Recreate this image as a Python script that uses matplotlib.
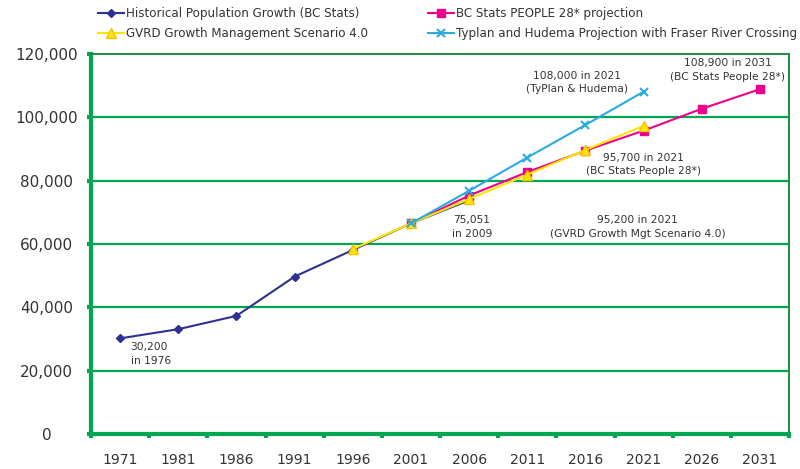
import matplotlib
matplotlib.use("Agg")
import matplotlib.pyplot as plt
from matplotlib.ticker import FuncFormatter
import numpy as np

# categories on the x axis (labels as printed on the original chart)
year_labels = ["1971", "1981", "1986", "1991", "1996", "2001",
               "2006", "2011", "2016", "2021", "2026", "2031"]

# series: (first category index, values)
hist_start = 0
hist_vals = [30200, 33100, 37300, 49700, 58100, 66500, 73800]
gvrd_start = 4
gvrd_vals = [58400, 66500, 74200, 81900, 89700, 97300]
bcs_start = 5
bcs_vals = [66500, 75300, 82700, 89500, 95800, 102700, 108900]
typ_start = 5
typ_vals = [66500, 76800, 87300, 97600, 108100]

y_ticks = [0, 20000, 40000, 60000, 80000, 100000, 120000]

GREEN = "#00a651"
DKGREEN = "#1f8a3f"
TXT = "#333333"

fig = plt.figure(figsize=(8, 4.69), dpi=100)
ax = fig.add_axes([91 / 800, 1 - 434 / 469, (789 - 91) / 800, (434 - 54) / 469])

def xs(start, vals):
    return np.arange(start, start + len(vals))

h1, = ax.plot(xs(hist_start, hist_vals), hist_vals, color="#2e3192", lw=1.5,
              marker="D", ms=4.5, label="Historical Population Growth (BC Stats)", zorder=3)
h2, = ax.plot(xs(bcs_start, bcs_vals), bcs_vals, color="#ec008c", lw=1.5,
              marker="s", ms=6, label="BC Stats PEOPLE 28* projection", zorder=4)
h3, = ax.plot(xs(gvrd_start, gvrd_vals), gvrd_vals, color="#ffe600", lw=1.5,
              marker="^", ms=7, mec="#f5c400", label="GVRD Growth Management Scenario 4.0", zorder=5)
h4, = ax.plot(xs(typ_start, typ_vals), typ_vals, color="#29abe2", lw=1.5,
              marker="x", ms=6, mew=1.5, label="Typlan and Hudema Projection with Fraser River Crossing", zorder=6)

ax.set_xlim(-0.5, len(year_labels) - 0.5)
ax.set_ylim(0, 120000)

# grid
for v in y_ticks[1:-1]:
    ax.axhline(v, color=GREEN, lw=1.6, zorder=1)

for s in ["left", "bottom"]:
    ax.spines[s].set_color(GREEN)
    ax.spines[s].set_linewidth(3)
for s in ["top", "right"]:
    ax.spines[s].set_color(DKGREEN)
    ax.spines[s].set_linewidth(1.4)

# x ticks: marks at boundaries, labels at category centers
ax.set_xticks(np.arange(-0.5, len(year_labels), 1))
ax.set_xticklabels([])
ax.set_xticks(np.arange(len(year_labels)), minor=True)
ax.set_xticklabels(year_labels, minor=True)
ax.tick_params(axis="x", which="major", direction="out", length=3, width=3, color=GREEN)
ax.tick_params(axis="x", which="minor", length=0, pad=13.5, labelsize=10, labelcolor=TXT)

ax.set_yticks(y_ticks)
ax.yaxis.set_major_formatter(FuncFormatter(lambda v, p: f"{int(v):,}"))
ax.tick_params(axis="y", direction="out", length=3, width=3, color=GREEN,
               pad=29, labelsize=11, labelcolor=TXT)
for lab in ax.get_yticklabels():
    lab.set_ha("center")

# annotations
akw = dict(fontsize=7.7, color=TXT, va="top", linespacing=1.45)
ax.text(0.18, 29000, "30,200\nin 1976", ha="left", **akw)
ax.text(6.05, 69000, "75,051\nin 2009", ha="center", **akw)
ax.text(8.9, 69000, "95,200 in 2021\n(GVRD Growth Mgt Scenario 4.0)", ha="center", **akw)
ax.text(9.0, 88800, "95,700 in 2021\n(BC Stats People 28*)", ha="center", **akw)
ax.text(7.85, 114700, "108,000 in 2021\n(TyPlan & Hudema)", ha="center", **akw)
ax.text(10.45, 118600, "108,900 in 2031\n(BC Stats People 28*)", ha="center", **akw)

# legend in two columns above the plot
lkw = dict(loc="upper left", frameon=False, fontsize=8.6, borderpad=0, borderaxespad=0,
           handlelength=2.2, handletextpad=0.15, labelspacing=0.6, labelcolor=TXT)
fig.legend(handles=[h1, h3], bbox_to_anchor=(98 / 800, 1 - 7 / 469), **lkw)
fig.legend(handles=[h2, h4], bbox_to_anchor=(428 / 800, 1 - 7 / 469), **lkw)

fig.savefig("out.png", dpi=100)
